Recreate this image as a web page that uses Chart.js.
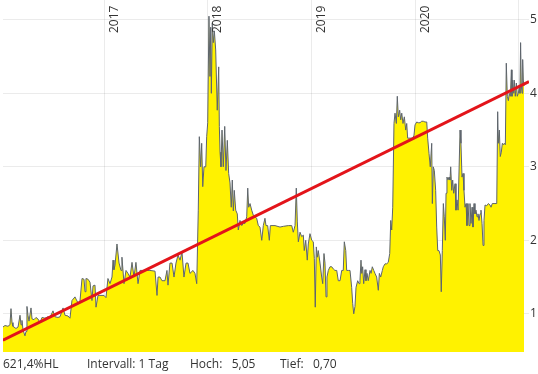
<!DOCTYPE html>
<html>
<head>
<meta charset="utf-8">
<script src="https://cdn.jsdelivr.net/npm/chart.js@4.4.0/dist/chart.umd.min.js"></script>
<style>
  body { margin: 0; background: #fff; }
  #wrap { position: relative; width: 538px; height: 374px; }
  .info { position: absolute; top: 355px; font: 12px "Open Sans", sans-serif; color: #333; white-space: pre; }
</style>
</head>
<body>
<div id="wrap">
  <canvas id="myChart" width="538" height="374"></canvas>
  <span class="info" style="left:3px">621,4%HL</span>
  <span class="info" style="left:87px">Intervall: 1 Tag</span>
  <span class="info" style="left:190px">Hoch:   5,05</span>
  <span class="info" style="left:280px">Tief:   0,70</span>
</div>
<script>
// time as decimal years, price per day
const dates = [
  2016.026, 2016.045, 2016.074, 2016.093, 2016.103, 2016.113, 2016.122, 2016.151, 2016.171, 2016.190,
  2016.200, 2016.209, 2016.219, 2016.238, 2016.248, 2016.257, 2016.267, 2016.277, 2016.296, 2016.306,
  2016.325, 2016.344, 2016.363, 2016.383, 2016.402, 2016.431, 2016.460, 2016.479, 2016.508, 2016.527,
  2016.556, 2016.576, 2016.605, 2016.624, 2016.653, 2016.672, 2016.691, 2016.720, 2016.730, 2016.749,
  2016.768, 2016.788, 2016.807, 2016.817, 2016.826, 2016.846, 2016.865, 2016.884, 2016.894, 2016.913,
  2016.923, 2016.942, 2016.961, 2017.000, 2017.019, 2017.038, 2017.058, 2017.077, 2017.087, 2017.096,
  2017.106, 2017.125, 2017.145, 2017.164, 2017.173, 2017.193, 2017.212, 2017.231, 2017.251, 2017.270,
  2017.289, 2017.308, 2017.328, 2017.347, 2017.395, 2017.443, 2017.492, 2017.511, 2017.521, 2017.540,
  2017.559, 2017.588, 2017.607, 2017.617, 2017.636, 2017.656, 2017.675, 2017.694, 2017.714, 2017.733,
  2017.752, 2017.771, 2017.791, 2017.810, 2017.829, 2017.858, 2017.877, 2017.894, 2017.909, 2017.919,
  2017.932, 2017.942, 2017.952, 2017.964, 2017.981, 2017.990, 2018.000, 2018.012, 2018.022, 2018.029,
  2018.035, 2018.044, 2018.054, 2018.064, 2018.077, 2018.092, 2018.106, 2018.112, 2018.119, 2018.128,
  2018.138, 2018.150, 2018.164, 2018.176, 2018.189, 2018.202, 2018.215, 2018.227, 2018.237, 2018.247,
  2018.256, 2018.270, 2018.285, 2018.295, 2018.311, 2018.328, 2018.343, 2018.360, 2018.376, 2018.386,
  2018.395, 2018.408, 2018.424, 2018.440, 2018.456, 2018.472, 2018.488, 2018.504, 2018.521, 2018.536,
  2018.552, 2018.562, 2018.578, 2018.594, 2018.604, 2018.649, 2018.697, 2018.729, 2018.777, 2018.810,
  2018.825, 2018.842, 2018.854, 2018.864, 2018.874, 2018.890, 2018.906, 2018.922, 2018.931, 2018.945,
  2018.960, 2018.970, 2018.986, 2019.003, 2019.018, 2019.028, 2019.037, 2019.047, 2019.057, 2019.066,
  2019.083, 2019.099, 2019.109, 2019.121, 2019.131, 2019.141, 2019.150, 2019.163, 2019.179, 2019.196,
  2019.211, 2019.227, 2019.244, 2019.259, 2019.276, 2019.292, 2019.307, 2019.317, 2019.331, 2019.340,
  2019.356, 2019.372, 2019.388, 2019.398, 2019.408, 2019.420, 2019.430, 2019.446, 2019.459, 2019.468,
  2019.478, 2019.485, 2019.494, 2019.504, 2019.517, 2019.526, 2019.536, 2019.548, 2019.565, 2019.575,
  2019.587, 2019.601, 2019.613, 2019.629, 2019.645, 2019.655, 2019.668, 2019.684, 2019.693, 2019.710,
  2019.726, 2019.741, 2019.755, 2019.765, 2019.774, 2019.784, 2019.796, 2019.806, 2019.819, 2019.828,
  2019.838, 2019.851, 2019.861, 2019.871, 2019.883, 2019.896, 2019.909, 2019.919, 2019.928, 2019.941,
  2019.960, 2019.977, 2019.989, 2019.999, 2020.015, 2020.031, 2020.047, 2020.063, 2020.079, 2020.095,
  2020.112, 2020.121, 2020.134, 2020.146, 2020.160, 2020.166, 2020.175, 2020.185, 2020.198, 2020.208,
  2020.218, 2020.230, 2020.243, 2020.252, 2020.262, 2020.272, 2020.281, 2020.291, 2020.298, 2020.307,
  2020.317, 2020.327, 2020.336, 2020.343, 2020.353, 2020.362, 2020.372, 2020.385, 2020.394, 2020.404,
  2020.414, 2020.423, 2020.433, 2020.442, 2020.452, 2020.462, 2020.471, 2020.481, 2020.491, 2020.500,
  2020.510, 2020.520, 2020.529, 2020.539, 2020.549, 2020.558, 2020.568, 2020.577, 2020.587, 2020.597,
  2020.606, 2020.616, 2020.626, 2020.635, 2020.645, 2020.655, 2020.664, 2020.674, 2020.690, 2020.706,
  2020.722, 2020.732, 2020.744, 2020.770, 2020.787, 2020.796, 2020.802, 2020.812, 2020.821, 2020.831,
  2020.841, 2020.850, 2020.860, 2020.870, 2020.879, 2020.889, 2020.899, 2020.908, 2020.918, 2020.928,
  2020.934, 2020.941, 2020.951, 2020.956, 2020.966, 2020.976, 2020.985, 2020.995, 2021.005, 2021.011,
  2021.017, 2021.024, 2021.031, 2021.037, 2021.043, 2021.050
];

const prices = [
  0.82, 0.84, 0.83, 0.85, 1.07, 0.88, 0.83, 0.80, 0.82, 0.98,
  0.85, 0.91, 0.78, 0.70, 0.76, 1.10, 0.98, 0.90, 1.08, 0.93,
  0.92, 0.95, 0.93, 0.88, 0.95, 0.94, 0.96, 0.95, 1.04, 0.96,
  0.95, 0.96, 1.08, 0.98, 0.97, 0.94, 1.18, 1.23, 1.20, 1.15,
  1.17, 1.48, 1.47, 1.30, 1.48, 1.47, 1.43, 1.18, 1.38, 1.39,
  1.09, 1.25, 1.25, 1.25, 1.22, 1.48, 1.41, 1.50, 1.73, 1.60,
  1.66, 1.95, 1.69, 1.59, 1.77, 1.41, 1.59, 1.55, 1.50, 1.70,
  1.50, 1.70, 1.41, 1.59, 1.59, 1.59, 1.58, 1.25, 1.50, 1.50,
  1.45, 1.45, 1.59, 1.39, 1.69, 1.69, 1.50, 1.69, 1.80, 1.73,
  1.84, 1.50, 1.69, 1.69, 1.55, 1.59, 1.55, 1.41, 2.41, 3.41,
  3.00, 3.32, 2.73, 3.00, 3.00, 3.41, 3.60, 5.05, 4.23, 4.90,
  4.00, 4.96, 4.69, 4.85, 4.59, 3.77, 4.36, 3.55, 3.20, 3.00,
  3.50, 3.00, 3.55, 2.95, 3.36, 2.91, 2.78, 2.45, 2.82, 2.40,
  2.68, 2.41, 2.36, 2.14, 2.27, 2.20, 2.23, 2.23, 2.32, 2.71,
  2.45, 2.50, 2.41, 2.34, 2.32, 2.30, 2.20, 2.18, 2.00, 2.20,
  2.30, 2.20, 2.20, 2.00, 2.20, 2.20, 2.18, 2.19, 2.20, 2.20,
  2.11, 2.20, 2.71, 2.25, 1.98, 2.11, 2.05, 2.07, 1.86, 2.00,
  1.73, 1.95, 2.09, 2.00, 1.98, 1.75, 1.09, 1.91, 1.77, 1.86,
  1.69, 1.50, 1.41, 1.82, 1.69, 1.23, 1.50, 1.59, 1.64, 1.64,
  1.61, 1.59, 1.59, 1.45, 1.45, 1.59, 1.59, 1.98, 1.86, 1.59,
  1.59, 1.59, 1.36, 1.14, 1.00, 1.10, 1.36, 1.45, 1.41, 1.45,
  1.73, 1.55, 1.64, 1.41, 1.60, 1.45, 1.55, 1.45, 1.59, 1.55,
  1.64, 1.59, 1.55, 1.50, 1.32, 1.55, 1.50, 1.59, 1.64, 1.68,
  1.68, 1.70, 1.82, 2.27, 2.14, 2.45, 3.59, 3.73, 3.59, 3.96,
  3.68, 3.77, 3.64, 3.73, 3.59, 3.68, 3.50, 3.59, 3.39, 3.39,
  3.39, 3.39, 3.43, 3.57, 3.61, 3.60, 3.60, 3.62, 3.62, 3.61,
  3.61, 3.39, 3.18, 3.00, 3.32, 2.50, 3.00, 2.95, 2.68, 2.18,
  1.86, 1.86, 1.80, 1.30, 1.86, 2.50, 2.32, 2.00, 2.64, 2.86,
  2.82, 2.86, 2.82, 3.00, 2.68, 2.82, 2.64, 2.77, 2.41, 2.55,
  2.41, 2.41, 3.50, 3.32, 2.86, 2.91, 2.68, 2.45, 2.50, 2.20,
  2.50, 2.20, 2.50, 2.23, 2.45, 2.18, 2.50, 2.36, 2.41, 2.32,
  2.36, 2.27, 2.36, 2.41, 2.23, 1.93, 2.27, 2.48, 2.47, 2.50,
  2.48, 2.45, 2.50, 2.50, 2.50, 3.75, 3.32, 3.50, 3.14, 3.20,
  3.32, 3.30, 3.32, 3.30, 4.41, 3.96, 3.90, 4.00, 3.96, 4.32,
  3.96, 4.18, 4.00, 4.18, 3.96, 4.14, 3.96, 4.00, 4.09, 4.00,
  4.69, 4.10, 4.00, 4.46, 4.18, 4.10
];

// regression line end points
const trendDates = [2016.026, 2021.098];
const trendValues = [0.64, 4.16];

const yTicks = [1, 2, 3, 4, 5];
const yearTicks = [2017, 2018, 2019, 2020, 2021];
const yearLabels = ['2017', '2018', '2019', '2020'];

const points = [];
for (let i = 0; i < dates.length; i++) {
  points.push({ x: dates[i], y: prices[i] });
}
const trend = [];
for (let i = 0; i < trendDates.length; i++) {
  trend.push({ x: trendDates[i], y: trendValues[i] });
}

const labelFont = '12px "Open Sans", sans-serif';

// year labels sit inside the plot, turned upright next to their grid line
const yearLabelPlugin = {
  id: 'yearLabelPlugin',
  afterDraw(chart) {
    const ctx = chart.ctx;
    const xs = chart.scales.x;
    ctx.save();
    ctx.font = labelFont;
    ctx.fillStyle = '#333';
    ctx.textAlign = 'left';
    ctx.textBaseline = 'alphabetic';
    for (let i = 0; i < yearLabels.length; i++) {
      const px = xs.getPixelForValue(Number(yearLabels[i]));
      ctx.save();
      ctx.translate(px + 13.5, 33);
      ctx.rotate(-Math.PI / 2);
      ctx.fillText(yearLabels[i], 0, 0);
      ctx.restore();
    }
    ctx.restore();
  }
};

const config = {
  type: 'line',
  data: {
    datasets: [
      {
        data: trend,
        borderColor: '#e3141a',
        borderWidth: 3,
        pointRadius: 0,
        fill: false
      },
      {
        data: points,
        borderColor: '#5d646c',
        borderWidth: 1,
        backgroundColor: '#fff200',
        pointRadius: 0,
        fill: 'start'
      }
    ]
  },
  options: {
    responsive: false,
    animation: false,
    layout: { padding: { left: 3, top: 0, right: 0, bottom: 22 } },
    plugins: { legend: { display: false }, tooltip: { enabled: false } },
    scales: {
      x: {
        type: 'linear',
        position: 'top',
        min: 2016.026,
        max: 2021.098,
        z: 1,
        afterBuildTicks: s => { s.ticks = yearTicks.map(v => ({ value: v })); },
        afterFit: s => { s.height = 0; s.paddingLeft = 0; s.paddingRight = 0; },
        ticks: { display: false },
        grid: { color: 'rgba(0,0,0,0.08)', drawTicks: false },
        border: { display: false }
      },
      y: {
        position: 'right',
        min: 0.48,
        max: 5.27,
        z: 1,
        afterBuildTicks: s => { s.ticks = yTicks.map(v => ({ value: v })); },
        afterFit: s => { s.width = 9; s.paddingTop = 0; s.paddingBottom = 0; },
        ticks: { padding: 1, color: '#333', font: { family: '"Open Sans", sans-serif', size: 12 } },
        grid: { color: 'rgba(0,0,0,0.08)', drawTicks: false },
        border: { display: false }
      }
    }
  },
  plugins: [yearLabelPlugin]
};

new Chart(document.getElementById('myChart'), config);
</script>
</body>
</html>
